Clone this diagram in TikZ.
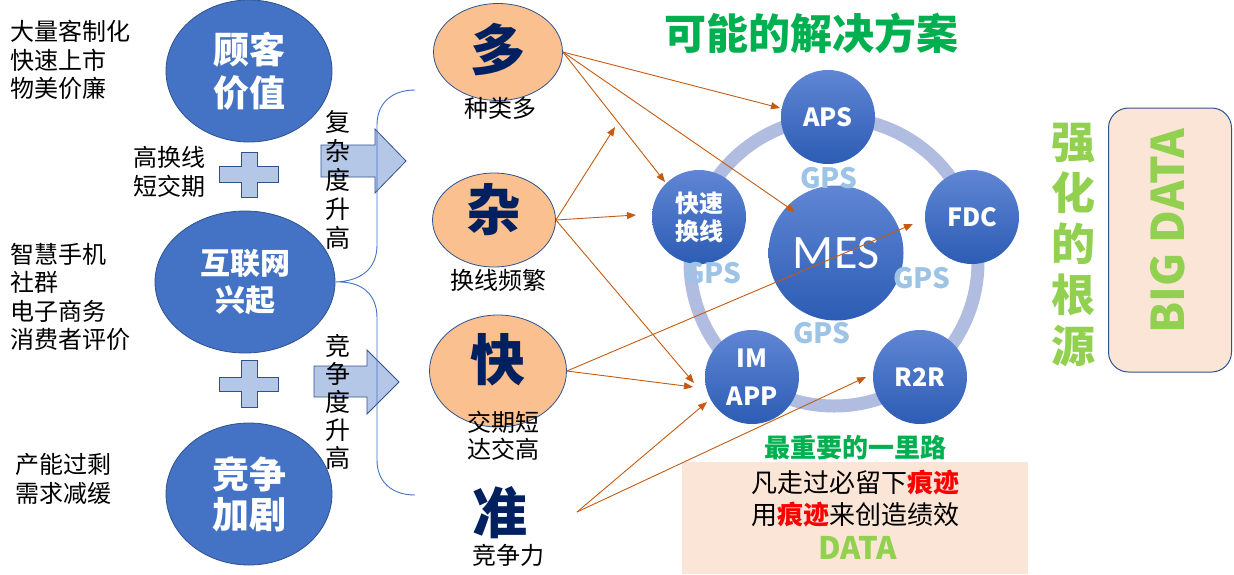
\documentclass[tikz,border=0pt]{standalone}
\usepackage{fontspec}
\setmainfont{Noto Sans CJK SC}
\newfontfamily\calfont{Carlito}
\usetikzlibrary{shapes.geometric,arrows.meta}
\definecolor{ellblue}{RGB}{68,114,196}
\definecolor{bordblue}{RGB}{47,82,143}
\definecolor{peachc}{RGB}{250,192,143}
\definecolor{navyc}{RGB}{0,32,96}
\definecolor{ctop}{RGB}{96,134,212}
\definecolor{cbot}{RGB}{44,92,180}
\definecolor{ringc}{RGB}{176,188,224}
\definecolor{gpsc}{RGB}{157,195,230}
\definecolor{orng}{RGB}{197,90,17}
\definecolor{boxc}{RGB}{251,229,214}
\definecolor{tgreen}{RGB}{0,176,80}
\definecolor{lgreen}{RGB}{146,208,80}
\definecolor{arfill}{RGB}{180,199,231}
\definecolor{bracec}{RGB}{68,114,196}
\begin{document}
\begin{tikzpicture}[x=1pt,y=-1pt,
  blueell/.style={ellipse, draw=bordblue, fill=ellblue, line width=0.8pt, inner sep=0pt, text=white, align=center},
  peach/.style={ellipse, draw=bordblue, fill=peachc, line width=0.8pt, inner sep=0pt},
  bigchar/.style={font=\bfseries\fontsize{55}{55}\selectfont, text=navyc, inner sep=0pt},
  plain/.style={font=\fontsize{24}{28.5}\selectfont, align=left, inner sep=0pt},
  ctext/.style={font=\fontsize{24}{27}\selectfont, align=center, inner sep=0pt},
  vtext/.style={align=center, inner sep=0pt},
  sol/.style={circle, minimum size=94pt, inner sep=0pt, top color=ctop, bottom color=cbot, draw=none, text=white, align=center},
  gps/.style={font=\bfseries\fontsize{28}{28}\selectfont, text=gpsc, inner sep=0pt},
  oarrow/.style={draw=orng, line width=0.9pt, -{Triangle[length=9pt,width=7pt]}},
  blockar/.style={fill=arfill, draw=bordblue, line width=0.8pt},
  bracel/.style={draw=bracec, line width=0.9pt}
]
\useasboundingbox (0,0) rectangle (1234,574);

% left column
\node[plain, anchor=west] (t1) at (10,60) {大量客制化\\快速上市\\物美价廉};
\node[blueell, minimum width=166pt, minimum height=142pt, font=\bfseries\fontsize{36}{43}\selectfont] (gk) at (249,71) {顾客\\价值};
\node[plain, anchor=west] (t2) at (133,172) {高换线\\短交期};
\draw[blockar] (241,152) -- (257,152) -- (257,166) -- (278,166) -- (278,182) -- (257,182) -- (257,197) -- (241,197) -- (241,182) -- (219,182) -- (219,166) -- (241,166) -- cycle;
\node[blueell, minimum width=180pt, minimum height=142pt, font=\bfseries\fontsize{30}{37}\selectfont] (hl) at (245,282) {互联网\\兴起};
\node[plain, anchor=west] (t3) at (10,297) {智慧手机\\社群\\电子商务\\消费者评价};
\draw[blockar] (241,360) -- (257,360) -- (257,377) -- (278,377) -- (278,391) -- (257,391) -- (257,407) -- (241,407) -- (241,391) -- (219,391) -- (219,377) -- (241,377) -- cycle;
\node[blueell, minimum width=166pt, minimum height=142pt, font=\bfseries\fontsize{37}{40}\selectfont] (jz) at (249,494) {竞争\\加剧};
\node[plain, anchor=west] (t4) at (15,479) {产能过剩\\需求减缓};

% block arrows
\draw[blockar] (321,145) -- (375,145) -- (375,129) -- (406,161) -- (375,193) -- (375,177) -- (321,177) -- cycle;
\draw[blockar] (314,366) -- (367,366) -- (367,350) -- (399,382) -- (367,414) -- (367,397) -- (314,397) -- cycle;
\node[vtext, font=\fontsize{25}{29}\selectfont] (v1) at (338,180) {复\\杂\\度\\升\\高};
\node[vtext, font=\fontsize{25}{28}\selectfont] (v2) at (338,402) {竞\\争\\度\\升\\高};

% brace
\draw[bracel] (415,90) .. controls (392,90) and (377,103) .. (377,125) -- (377,245) .. controls (377,268) and (362,281) .. (hl.east) .. controls (362,281) and (377,294) .. (377,318) -- (377,460) .. controls (377,482) and (392,495) .. (415,495);

% peach ellipses
\node[peach, minimum width=129pt, minimum height=97pt] (duo) at (498,52) {};
\node[bigchar] (duoc) at (498,50) {多};
\node[ctext] (duot) at (500,108) {种类多};
\node[peach, minimum width=123pt, minimum height=94pt] (za) at (494,220) {};
\node[bigchar] (zac) at (494,210) {杂};
\node[ctext] (zat) at (498,280) {换线频繁};
\node[peach, minimum width=137pt, minimum height=112pt] (kuai) at (498,371) {};
\node[bigchar] (kuaic) at (498,360) {快};
\node[ctext] (kt) at (503,436) {交期短\\达交高};
\node[bigchar] (zhun) at (500,513) {准};
\node[ctext] (zt) at (508,555) {竞争力};

% title
\node[font=\bfseries\fontsize{42}{42}\selectfont, text=tgreen, inner sep=0pt] (title) at (811,33) {可能的解决方案};

% ring and solution circles
\draw[ringc, line width=13pt] (834,262) circle[radius=144pt];
\node[sol, font=\bfseries\fontsize{25}{25}\selectfont] (aps) at (828,117) {APS};
\node[sol, font=\bfseries\fontsize{25}{25}\selectfont] (fdc) at (972,217) {FDC};
\node[sol, font=\bfseries\fontsize{25}{25}\selectfont] (r2r) at (920,377) {R2R};
\node[sol, font=\bfseries\fontsize{25}{38}\selectfont] (im) at (752,377) {IM\\APP};
\node[sol, font=\bfseries\fontsize{24}{28}\selectfont] (ksh) at (699,217) {快速\\换线};
\node[sol, minimum size=135pt, font=\calfont\fontsize{48}{48}\selectfont] (mes) at (836,253) {MES};
\node[gps] (g1) at (829,178) {GPS};
\node[gps] (g2) at (713,273) {GPS};
\node[gps] (g3) at (922,278) {GPS};
\node[gps] (g4) at (822,333) {GPS};

% bottom box
\node[fill=boxc, minimum width=346pt, minimum height=112pt, inner sep=0pt] (box) at (855,518) {};
\node[font=\bfseries\fontsize{26}{26}\selectfont, text=tgreen, inner sep=0pt] (zzy) at (855,448) {最重要的一里路};
\node[font=\fontsize{26}{26}\selectfont, inner sep=0pt] (l1) at (855,483) {凡走过必留下{\bfseries\color{red}痕迹}};
\node[font=\fontsize{26}{26}\selectfont, inner sep=0pt] (l2) at (855,515) {用{\bfseries\color{red}痕迹}来创造绩效};
\node[font=\bfseries\fontsize{31}{31}\selectfont, text=lgreen, inner sep=0pt] (data) at (858,548) {DATA};

% right side
\node[vtext, font=\bfseries\fontsize{44}{51}\selectfont, text=lgreen] (qh) at (1073,245) {强\\化\\的\\根\\源};
\node[draw=bordblue, fill=boxc, rounded corners=20pt, minimum width=123pt, minimum height=264pt, line width=1pt, inner sep=0pt] (bd) at (1170,240) {};
\node[rotate=90, font=\bfseries\fontsize{45}{45}\selectfont, text=lgreen, inner sep=0pt] (bdt) at (1168,231) {BIG DATA};

% arrow end coordinates
\coordinate (eAPS) at (780,108);
\coordinate (eMES) at (795,212);
\coordinate (eKSH) at (665,182);
\coordinate (fz1) at (615,127);
\coordinate (fz2) at (636,215);
\coordinate (eIM1) at (694,383);
\coordinate (eIM2) at (693,387);
\coordinate (eFDC) at (913,224);
\coordinate (szh) at (577,512);
\coordinate (eIM3) at (707,402);
\coordinate (eR2R) at (866,377);

\draw[oarrow] (duo.east) -- (eAPS);
\draw[oarrow] (duo.east) -- (eMES);
\draw[oarrow] (duo.east) -- (eKSH);
\draw[oarrow] (za.east) -- (fz1);
\draw[oarrow] (za.east) -- (fz2);
\draw[oarrow] (za.east) -- (eIM1);
\draw[oarrow] (kuai.east) -- (eIM2);
\draw[oarrow] (kuai.east) -- (eFDC);
\draw[oarrow] (szh) -- (eIM3);
\draw[oarrow] (szh) -- (eR2R);
\end{tikzpicture}
\end{document}
